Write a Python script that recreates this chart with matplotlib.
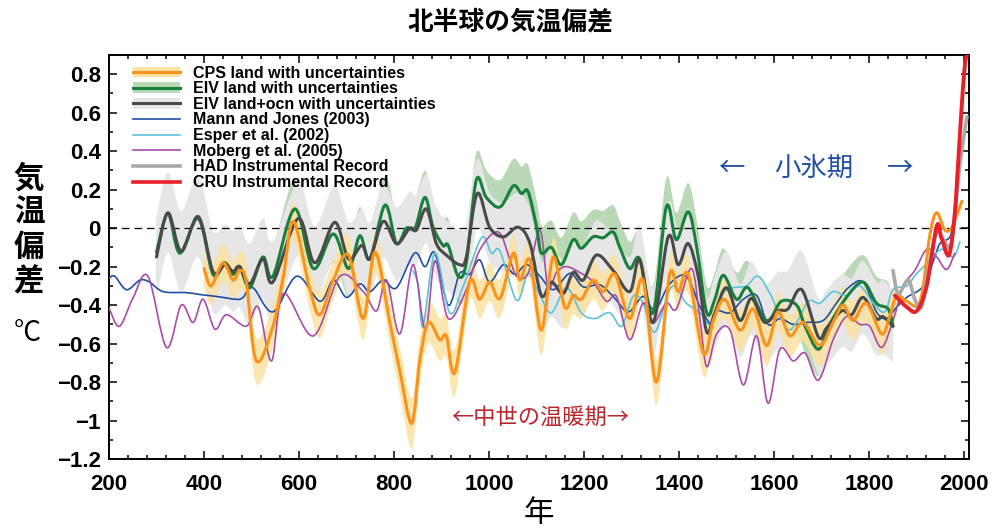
import matplotlib
matplotlib.use("Agg")
import matplotlib.pyplot as plt
from matplotlib.patches import Patch, PathPatch
from matplotlib.lines import Line2D
from matplotlib.path import Path
from matplotlib.ticker import MultipleLocator

plt.rcParams['font.family'] = ['Liberation Sans', 'Noto Sans CJK JP', 'DejaVu Sans']
JP = ['Noto Sans CJK JP', 'DejaVu Sans']

############# data ####################################

# CPS land (orange) + half width of its uncertainty band
cps_years = [400, 415, 440, 461, 475, 489, 510, 545, 567, 588, 623, 644, 672, 704, 735, 760,
             791, 812, 837, 854, 872, 896, 910, 928, 959, 980, 1001, 1023, 1051, 1065, 1086,
             1110, 1135, 1159, 1177, 1194, 1219, 1240, 1265, 1296, 1324, 1352, 1380, 1398,
             1419, 1451, 1472, 1496, 1528, 1556, 1584, 1608, 1633, 1661, 1696, 1724, 1745,
             1766, 1794, 1826, 1843, 1858, 1879, 1907, 1928, 1942, 1959, 1973, 1987, 1995]
cps_vals = [-0.21, -0.30, -0.18, -0.27, -0.22, -0.28, -0.69, -0.51, -0.25, 0.035, -0.32, -0.45,
            -0.27, -0.14, -0.47, -0.125, -0.49, -0.74, -1.015, -0.69, -0.49, -0.58, -0.56,
            -0.75, -0.28, -0.37, -0.28, -0.365, -0.13, -0.27, -0.166, -0.53, -0.15, -0.41,
            -0.35, -0.37, -0.27, -0.33, -0.24, -0.47, -0.27, -0.80, -0.24, -0.33, -0.24,
            -0.65, -0.48, -0.37, -0.53, -0.42, -0.61, -0.435, -0.56, -0.49, -0.61, -0.49,
            -0.40, -0.48, -0.39, -0.55, -0.46, -0.35, -0.38, -0.38, -0.03, 0.08, -0.01,
            0.0, 0.085, 0.14]
cps_err = [0.10, 0.10, 0.10, 0.10, 0.10, 0.10, 0.12, 0.11, 0.10, 0.10, 0.11, 0.12, 0.10,
           0.10, 0.11, 0.10, 0.11, 0.12, 0.13, 0.12, 0.11, 0.11, 0.11, 0.12, 0.10, 0.10,
           0.10, 0.10, 0.10, 0.10, 0.10, 0.13, 0.10, 0.11, 0.10, 0.10, 0.10, 0.10, 0.10,
           0.11, 0.10, 0.12, 0.10, 0.10, 0.10, 0.12, 0.11, 0.10, 0.11, 0.10, 0.11, 0.10,
           0.11, 0.10, 0.11, 0.10, 0.10, 0.10, 0.10, 0.11, 0.10, 0.10, 0.0, 0.0, 0.0,
           0.0, 0.0, 0.0, 0.0, 0.0]

# EIV land (green)
eiv_years = [300, 324, 349, 388, 419, 444, 461, 475, 496, 524, 545, 591, 630, 672, 704, 728,
             749, 781, 805, 826, 844, 865, 882, 903, 914, 935, 952, 973, 994, 1023, 1051,
             1068, 1082, 1100, 1110, 1131, 1152, 1177, 1194, 1219, 1240, 1261, 1275, 1296,
             1317, 1345, 1373, 1394, 1419, 1437, 1458, 1475, 1493, 1521, 1545, 1584, 1615,
             1647, 1665, 1693, 1717, 1752, 1787, 1815, 1840, 1850]
eiv_vals = [-0.125, 0.075, -0.13, 0.05, -0.24, -0.18, -0.24, -0.20, -0.31, -0.15, -0.25, 0.10,
            -0.21, -0.03, -0.21, -0.04, -0.16, 0.12, -0.08, -0.0, 0.0, 0.16, 0.005, -0.09,
            -0.09, -0.25, -0.18, 0.25, 0.16, 0.11, 0.22, 0.18, 0.19, 0.005, -0.13, -0.10,
            -0.19, -0.06, -0.105, -0.045, -0.05, -0.02, -0.10, -0.21, -0.16, -0.44, 0.11,
            -0.06, 0.085, -0.10, -0.44, -0.37, -0.245, -0.37, -0.31, -0.48, -0.38, -0.40,
            -0.51, -0.63, -0.50, -0.36, -0.28, -0.39, -0.42, -0.51]
eiv_err = [0.16, 0.16, 0.16, 0.16, 0.16, 0.16, 0.16, 0.16, 0.16, 0.16, 0.16, 0.15, 0.15,
           0.15, 0.15, 0.15, 0.15, 0.15, 0.15, 0.15, 0.15, 0.14, 0.14, 0.14, 0.14, 0.14,
           0.14, 0.14, 0.14, 0.14, 0.14, 0.14, 0.14, 0.14, 0.14, 0.14, 0.14, 0.14, 0.14,
           0.14, 0.14, 0.14, 0.14, 0.14, 0.14, 0.14, 0.15, 0.14, 0.15, 0.14, 0.14, 0.14,
           0.14, 0.14, 0.14, 0.14, 0.14, 0.14, 0.14, 0.14, 0.14, 0.14, 0.14, 0.14, 0.14,
           0.14]

# EIV land+ocean (dark gray)
eivo_years = [300, 324, 352, 388, 419, 444, 461, 475, 496, 524, 545, 598, 633, 675, 704, 732,
              749, 777, 805, 833, 847, 868, 889, 910, 938, 952, 975, 1001, 1030, 1061, 1086,
              1110, 1131, 1156, 1177, 1198, 1226, 1261, 1296, 1317, 1345, 1377, 1398, 1419,
              1440, 1458, 1475, 1500, 1528, 1552, 1580, 1608, 1629, 1658, 1693, 1710, 1742,
              1763, 1787, 1815, 1829, 1850]
eivo_vals = [-0.15, 0.08, -0.12, 0.06, -0.225, -0.19, -0.225, -0.20, -0.29, -0.16, -0.28, 0.05,
             -0.18, 0.03, -0.16, -0.09, -0.16, 0.035, -0.08, 0.0, -0.01, 0.10, -0.08, -0.14,
             -0.19, -0.15, 0.18, 0.005, -0.045, 0.005, -0.08, -0.35, -0.28, -0.34, -0.23,
             -0.27, -0.14, -0.22, -0.33, -0.165, -0.49, -0.045, -0.19, -0.08, -0.25, -0.54,
             -0.44, -0.31, -0.48, -0.365, -0.49, -0.43, -0.42, -0.32, -0.565, -0.52, -0.43,
             -0.45, -0.36, -0.47, -0.46, -0.51]
eivo_err = [0.21, 0.21, 0.21, 0.21, 0.21, 0.21, 0.21, 0.21, 0.21, 0.21, 0.21, 0.19, 0.19,
            0.19, 0.19, 0.19, 0.19, 0.19, 0.19, 0.19, 0.18, 0.18, 0.18, 0.18, 0.18, 0.18,
            0.18, 0.18, 0.18, 0.18, 0.18, 0.18, 0.18, 0.18, 0.18, 0.18, 0.18, 0.18, 0.18,
            0.18, 0.18, 0.18, 0.18, 0.18, 0.18, 0.18, 0.19, 0.19, 0.19, 0.19, 0.20, 0.20,
            0.20, 0.20, 0.20, 0.20, 0.19, 0.19, 0.19, 0.19, 0.19, 0.19]

# Mann and Jones (2003)
mj_years = [200, 212, 237, 265, 285, 314, 363, 391, 426, 468, 482, 503, 545, 595, 644, 672,
            700, 728, 749, 777, 805, 843, 865, 886, 914, 938, 959, 980, 1001, 1030, 1054,
            1079, 1107, 1135, 1170, 1198, 1233, 1261, 1293, 1324, 1349, 1380, 1415, 1444,
            1468, 1479, 1507, 1535, 1563, 1587, 1612, 1640, 1668, 1703, 1731, 1756, 1787,
            1815, 1836, 1858, 1879, 1914, 1938, 1949, 1970, 1980]
mj_vals = [-0.26, -0.25, -0.32, -0.27, -0.28, -0.33, -0.335, -0.345, -0.355, -0.37, -0.36,
           -0.31, -0.435, -0.25, -0.38, -0.27, -0.36, -0.29, -0.33, -0.27, -0.31, -0.13, -0.20,
           -0.13, -0.40, -0.235, -0.24, -0.165, -0.28, -0.19, -0.24, -0.19, -0.25, -0.32,
           -0.235, -0.305, -0.295, -0.355, -0.435, -0.355, -0.425, -0.29, -0.25, -0.41,
           -0.50, -0.43, -0.44, -0.37, -0.35, -0.50, -0.47, -0.50, -0.49, -0.48, -0.39,
           -0.31, -0.28, -0.435, -0.47, -0.41, -0.36, -0.30, -0.15, -0.08, -0.045, 0.06]

# Esper et al. (2002)
esp_years = [840, 851, 861, 886, 917, 945, 984, 1005, 1023, 1058, 1082, 1107, 1131, 1163,
             1194, 1222, 1254, 1279, 1303, 1324, 1349, 1384, 1415, 1444, 1468, 1493, 1514,
             1542, 1566, 1591, 1626, 1647, 1672, 1696, 1724, 1752, 1780, 1808, 1833, 1850,
             1879, 1900, 1928, 1952, 1977, 1991]
esp_vals = [-0.22, -0.30, -0.51, -0.13, -0.44, -0.305, -0.05, -0.13, -0.12, -0.375, -0.235,
            -0.35, -0.44, -0.31, -0.44, -0.47, -0.44, -0.51, -0.355, -0.39, -0.54, -0.305,
            -0.39, -0.44, -0.50, -0.34, -0.31, -0.30, -0.25, -0.34, -0.52, -0.49, -0.38,
            -0.39, -0.33, -0.35, -0.30, -0.39, -0.435, -0.32, -0.30, -0.235, -0.17, -0.11,
            -0.15, -0.07]

# Moberg et al. (2005)
mob_years = [200, 222, 251, 282, 321, 352, 377, 398, 423, 447, 489, 514, 542, 567, 630, 686,
             735, 763, 784, 812, 840, 866, 886, 914, 952, 980, 1019, 1044, 1058, 1082, 1107,
             1124, 1142, 1163, 1194, 1219, 1247, 1268, 1296, 1324, 1345, 1373, 1394, 1426,
             1444, 1458, 1479, 1507, 1535, 1563, 1587, 1612, 1640, 1665, 1693, 1724, 1752,
             1780, 1801, 1826, 1850, 1872, 1896, 1921, 1942, 1963, 1980]
mob_vals = [-0.415, -0.51, -0.36, -0.25, -0.62, -0.40, -0.49, -0.37, -0.525, -0.45, -0.51,
            -0.41, -0.69, -0.34, -0.56, -0.25, -0.33, -0.43, -0.27, -0.55, -0.19, -0.53,
            -0.17, -0.47, -0.32, -0.115, -0.02, -0.165, -0.25, -0.235, -0.01, -0.305, -0.23,
            -0.20, -0.235, -0.28, -0.38, -0.355, -0.58, -0.39, -0.495, -0.39, -0.42, -0.21,
            -0.48, -0.72, -0.55, -0.53, -0.815, -0.56, -0.91, -0.63, -0.69, -0.65, -0.79,
            -0.58, -0.46, -0.50, -0.51, -0.62, -0.48, -0.30, -0.22, -0.11, -0.15, -0.215,
            -0.13]

# HAD instrumental record
had_years = [1850, 1861, 1882, 1896, 1910, 1925, 1942, 1956, 1973, 1987, 1998, 2006]
had_vals = [-0.22, -0.34, -0.27, -0.37, -0.41, -0.20, -0.02, -0.06, -0.08, 0.25, 0.46, 0.58]

# CRU instrumental record
cru_years = [1854, 1879, 1900, 1921, 1942, 1952, 1968, 1980, 1987, 1994, 2001, 2006]
cru_vals = [-0.35, -0.41, -0.43, -0.30, 0.01, -0.05, -0.14, 0.076, 0.335, 0.61, 0.84, 0.90]

x_ticks = [200, 400, 600, 800, 1000, 1200, 1400, 1600, 1800, 2000]
y_ticks = [-1.2, -1.0, -0.8, -0.6, -0.4, -0.2, 0.0, 0.2, 0.4, 0.6, 0.8]
y_ticklabels = ['\u22121.2', '\u22121', '\u22120.8', '\u22120.6', '\u22120.4', '\u22120.2',
                '0', '0.2', '0.4', '0.6', '0.8']

#######################################

C_CPS, C_CPS_BAND = '#f7931e', '#fce2a2'
C_EIV, C_EIV_BAND = '#17803a', '#b9d8b5'
C_EIVO, C_EIVO_BAND = '#4a4a4a', '#e6e6e6'
C_MJ = '#1f4fa3'
C_ESP = '#5cc3d9'
C_MOB = '#a84ca8'
C_HAD = '#a9a9a9'
C_CRU = '#e8202a'


# smooth (Catmull-Rom style) bezier path through the read points
def curve(xs, ys):
    n = len(xs)
    verts, codes = [(xs[0], ys[0])], [Path.MOVETO]
    for i in range(n - 1):
        x0, y0 = xs[max(i - 1, 0)], ys[max(i - 1, 0)]
        x1, y1 = xs[i], ys[i]
        x2, y2 = xs[i + 1], ys[i + 1]
        x3, y3 = xs[min(i + 2, n - 1)], ys[min(i + 2, n - 1)]
        lo, hi = min(x1, x2), max(x1, x2)
        c1x = min(max(x1 + (x2 - x0) / 6, lo), hi)
        c2x = min(max(x2 - (x3 - x1) / 6, lo), hi)
        verts += [(c1x, y1 + (y2 - y0) / 6), (c2x, y2 - (y3 - y1) / 6), (x2, y2)]
        codes += [Path.CURVE4] * 3
    return verts, codes


def line(ax, xs, ys, color, lw, z):
    v, c = curve(xs, ys)
    ax.add_patch(PathPatch(Path(v, c), fill=False, edgecolor=color, lw=lw, zorder=z,
                           joinstyle='round', capstyle='round'))


def band(ax, xs, ys, err, color, z, alpha=1.0):
    up_v, up_c = curve(xs, [y + e for y, e in zip(ys, err)])
    lo_v, lo_c = curve(xs[::-1], [y - e for y, e in zip(ys, err)][::-1])
    lo_c[0] = Path.LINETO
    v = up_v + lo_v + [up_v[0]]
    c = up_c + lo_c + [Path.CLOSEPOLY]
    ax.add_patch(PathPatch(Path(v, c), facecolor=color, lw=0, zorder=z, alpha=alpha))


fig = plt.figure(figsize=(9.96, 5.31), dpi=100)
ax = fig.add_axes([109 / 996, 1 - 459 / 531, 860 / 996, 404 / 531])

# UNCERTAINTY BANDS
band(ax, eiv_years, eiv_vals, eiv_err, C_EIV_BAND, 1)
band(ax, eivo_years, eivo_vals, eivo_err, C_EIVO_BAND, 2)
n_cps_band = sum(1 for y in cps_years if y <= 1858)
band(ax, cps_years[:n_cps_band], cps_vals[:n_cps_band], cps_err[:n_cps_band],
     C_CPS_BAND, 3, alpha=0.85)

ax.axhline(0, color='black', lw=0.9, dashes=(6, 4), zorder=4)

# LINES
line(ax, mj_years, mj_vals, C_MJ, 1.2, 5)
line(ax, esp_years, esp_vals, C_ESP, 1.2, 5)
line(ax, mob_years, mob_vals, C_MOB, 1.2, 5)
line(ax, eiv_years, eiv_vals, C_EIV, 2.2, 6)
line(ax, eivo_years, eivo_vals, C_EIVO, 2.2, 7)
line(ax, cps_years, cps_vals, C_CPS, 2.2, 8)
line(ax, had_years, had_vals, C_HAD, 2.6, 9)
line(ax, cru_years, cru_vals, C_CRU, 2.8, 10)

# AXES
ax.set_xlim(200, 2010)
ax.set_ylim(-1.2, 0.9)
ax.set_xticks(x_ticks)
ax.set_yticks(y_ticks)
ax.set_yticklabels(y_ticklabels)
ax.xaxis.set_minor_locator(MultipleLocator(40))
ax.yaxis.set_minor_locator(MultipleLocator(0.1))
ax.tick_params(which='both', direction='in', top=True, right=True, width=1.1)
ax.tick_params(which='major', length=6, labelsize=16)
ax.tick_params(axis='x', which='major', pad=11)
ax.tick_params(axis='y', which='major', pad=6)
ax.tick_params(which='minor', length=3)
for lab in ax.get_xticklabels() + ax.get_yticklabels():
    lab.set_fontweight('bold')
for sp in ax.spines.values():
    sp.set_linewidth(1.4)

# LEGEND
handles = [
    (Patch(facecolor=C_CPS_BAND, lw=0), Line2D([], [], color=C_CPS, lw=2.2)),
    (Patch(facecolor=C_EIV_BAND, lw=0), Line2D([], [], color=C_EIV, lw=2.2)),
    (Patch(facecolor=C_EIVO_BAND, lw=0), Line2D([], [], color=C_EIVO, lw=2.2)),
    Line2D([], [], color=C_MJ, lw=1.2),
    Line2D([], [], color=C_ESP, lw=1.2),
    Line2D([], [], color=C_MOB, lw=1.2),
    Line2D([], [], color=C_HAD, lw=2.6),
    Line2D([], [], color=C_CRU, lw=2.6),
]
labels = ['CPS land with uncertainties', 'EIV land with uncertainties',
          'EIV land+ocn with uncertainties', 'Mann and Jones (2003)', 'Esper et al. (2002)',
          'Moberg et al. (2005)', 'HAD Instrumental Record', 'CRU Instrumental Record']
leg = ax.legend(handles, labels, loc='upper left', bbox_to_anchor=(0.028, 0.974),
                frameon=False, borderpad=0, borderaxespad=0, handlelength=2.95,
                handleheight=0.65, handletextpad=0.8, labelspacing=0.04,
                prop={'family': 'Liberation Sans', 'weight': 'bold', 'size': 11.5})
leg.set_zorder(20)

# TEXTS
fig.text(510 / 996, 1 - 22 / 531, '北半球の気温偏差', family=JP, fontsize=18.5,
         fontweight='bold', ha='center', va='center')
fig.text(29 / 996, 1 - 230 / 531, '気\n温\n偏\n差', family=JP, fontsize=22,
         fontweight='bold', ha='center', va='center', linespacing=1.08)
fig.text(28 / 996, 1 - 333 / 531, '°C', family=JP, fontsize=20, ha='center', va='center')
fig.text(539 / 996, 1 - 514 / 531, '年', family=JP, fontsize=22, ha='center', va='center')

ax.text(1509, 0.312, '←', family=JP, fontsize=19, color=C_MJ, ha='center', va='center')
ax.text(1683, 0.312, '小氷期', family=JP, fontsize=19, color=C_MJ, ha='center',
        va='center')
ax.text(1864, 0.312, '→', family=JP, fontsize=19, color=C_MJ, ha='center', va='center')
ax.text(1107, -0.982, '←中世の温暖期→', family=JP, fontsize=16, color='#b8262c',
        ha='center', va='center')

plt.savefig('out.png', dpi=100)
